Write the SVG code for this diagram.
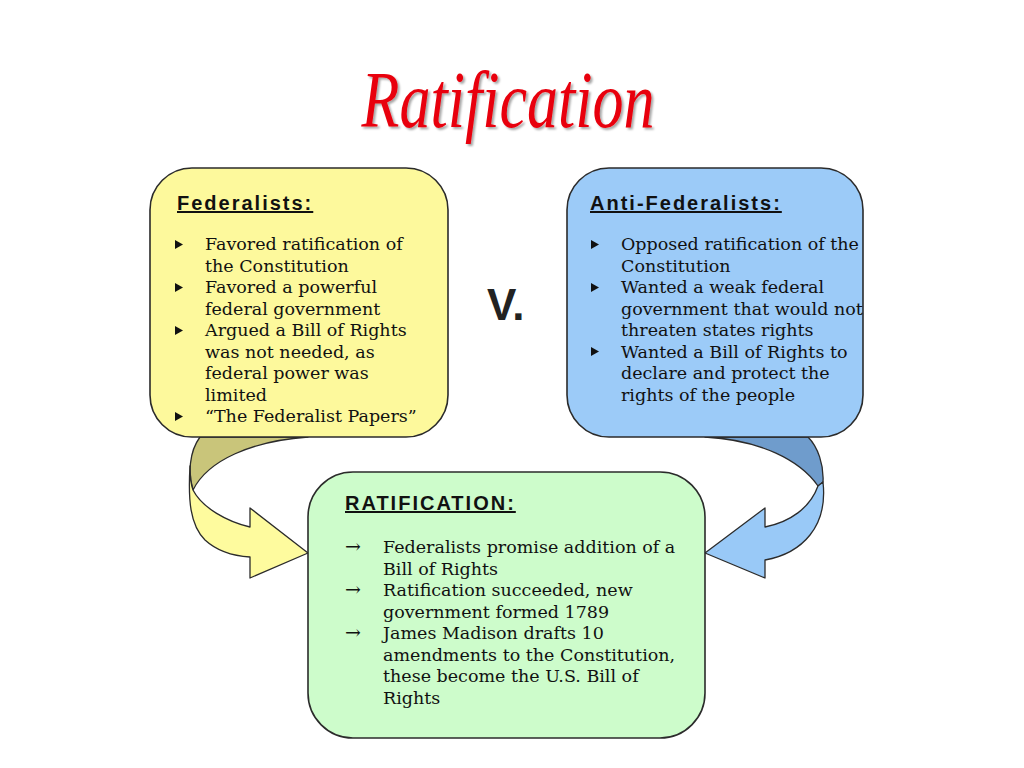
<svg xmlns="http://www.w3.org/2000/svg" width="1024" height="768" viewBox="0 0 1024 768">
<defs>
<filter id="ts" x="-10%" y="-10%" width="120%" height="130%">
<feDropShadow dx="2" dy="2" stdDeviation="1.2" flood-color="#000" flood-opacity="0.35"/>
</filter>
</defs>
<style>
.box{stroke:#2b2b2b;stroke-width:1.6}
.h{font-family:"Liberation Sans",Arial,sans-serif;font-weight:bold;font-size:20px;letter-spacing:2px;text-decoration:underline;fill:#111}
.t{font-family:"DejaVu Serif","Liberation Serif",serif;font-size:17.5px;fill:#111}
.ar{font-family:"DejaVu Serif","Liberation Serif",serif;font-size:19px;fill:#111}
.bul{fill:#111}
.arr{stroke:#2b2b2b;stroke-width:1.3;stroke-linejoin:round}
</style>
<rect width="1024" height="768" fill="#fff"/>
<text x="508" y="127" text-anchor="middle" font-family="'Liberation Serif',serif" font-style="italic" font-size="80" textLength="293" lengthAdjust="spacingAndGlyphs" fill="#e8000c" filter="url(#ts)">Ratification</text>

<g id="connectors">
<path class="arr" fill="#c9c57a" d="M200,437 L308,437 C252,441 208,460 193,490 C188,474 189,452 200,437 Z"/>
<path class="arr" fill="#fefb9e" d="M190,466 C188,500 190,525 205,540 C218,552 234,556 250,557 L250,578 L308,553 L250,508 L250,527 C228,522 202,508 193,490 C190,482 190,474 190,466 Z"/>
<path class="arr" fill="#6f9ccc" d="M705,437 L808,437 C818,447 824,465 823,482 L818,486 C800,460 760,440 705,437 Z"/>
<path class="arr" fill="#99c9f7" d="M823,482 C825,500 822,520 810,535 C798,550 782,557 765,560 L765,578 L705,553 L765,508 L765,527 C790,522 810,508 818,486 Z"/>
</g>

<g id="federalists">
<rect class="box" x="150" y="168" width="298" height="269" rx="42" ry="42" fill="#fdf99c"/>
<text class="h" x="177" y="210">Federalists:</text>
<polygon class="bul" points="175,240 183,244.5 175,249"/>
<polygon class="bul" points="175,283 183,287.5 175,292"/>
<polygon class="bul" points="175,326 183,330.5 175,335"/>
<polygon class="bul" points="175,412 183,416.5 175,421"/>
<text class="t" x="205" y="250">Favored ratification of</text>
<text class="t" x="205" y="271.5">the Constitution</text>
<text class="t" x="205" y="293">Favored a powerful</text>
<text class="t" x="205" y="314.5">federal government</text>
<text class="t" x="205" y="336">Argued a Bill of Rights</text>
<text class="t" x="205" y="357.5">was not needed, as</text>
<text class="t" x="205" y="379">federal power was</text>
<text class="t" x="205" y="400.5">limited</text>
<text class="t" x="205" y="422">“The Federalist Papers”</text>
</g>

<g id="versus">
<text x="487" y="320" font-family="'Liberation Sans',Arial,sans-serif" font-weight="bold" font-size="44" fill="#222">V.</text>
</g>

<g id="antifederalists">
<rect class="box" x="567" y="168" width="296" height="269" rx="42" ry="42" fill="#9ccbf8"/>
<text class="h" x="590" y="210">Anti-Federalists:</text>
<polygon class="bul" points="591,240 599,244.5 591,249"/>
<polygon class="bul" points="591,283 599,287.5 591,292"/>
<polygon class="bul" points="591,347 599,351.5 591,356"/>
<text class="t" x="621" y="250">Opposed ratification of the</text>
<text class="t" x="621" y="271.5">Constitution</text>
<text class="t" x="621" y="293">Wanted a weak federal</text>
<text class="t" x="621" y="314.5">government that would not</text>
<text class="t" x="621" y="336">threaten states rights</text>
<text class="t" x="621" y="357.5">Wanted a Bill of Rights to</text>
<text class="t" x="621" y="379">declare and protect the</text>
<text class="t" x="621" y="400.5">rights of the people</text>
</g>

<g id="ratification">
<rect class="box" x="308" y="472" width="397" height="266" rx="45" ry="45" fill="#cdfccb"/>
<text class="h" x="345" y="510">RATIFICATION:</text>
<text class="ar" x="345" y="553">→</text>
<text class="ar" x="345" y="596">→</text>
<text class="ar" x="345" y="639">→</text>
<text class="t" x="383" y="553">Federalists promise addition of a</text>
<text class="t" x="383" y="574.5">Bill of Rights</text>
<text class="t" x="383" y="596">Ratification succeeded, new</text>
<text class="t" x="383" y="617.5">government formed 1789</text>
<text class="t" x="383" y="639">James Madison drafts 10</text>
<text class="t" x="383" y="660.5">amendments to the Constitution,</text>
<text class="t" x="383" y="682">these become the U.S. Bill of</text>
<text class="t" x="383" y="703.5">Rights</text>
</g>
</svg>
